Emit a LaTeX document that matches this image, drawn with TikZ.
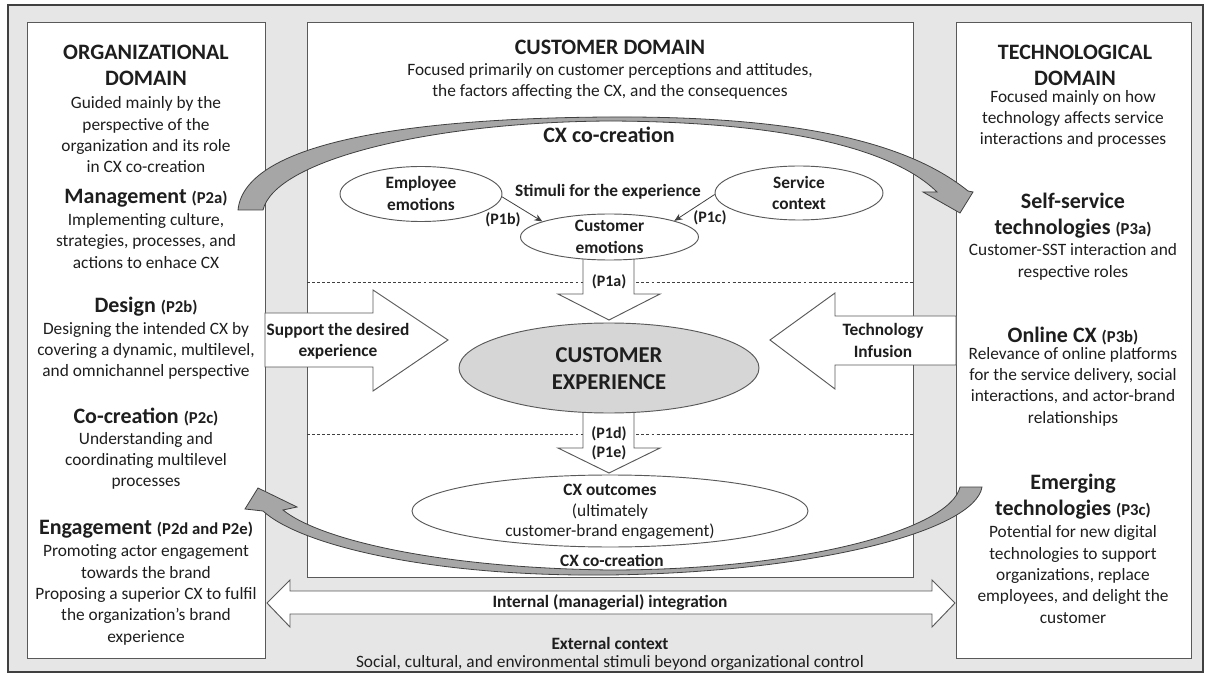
\documentclass[tikz,border=0pt]{standalone}
\usepackage{fontspec}
\setmainfont{Carlito}
\usetikzlibrary{shapes.geometric,arrows.meta}
\definecolor{bgray}{HTML}{E6E6E6}
\definecolor{frame}{HTML}{404040}
\definecolor{edge}{HTML}{595959}
\definecolor{band}{HTML}{A6A6A6}
\definecolor{cefill}{HTML}{D6D6D6}
\definecolor{ink}{HTML}{1E1E1E}
\newcommand\pnum[1]{{\fontsize{12.5}{15}\selectfont #1}}

\begin{document}
\begin{tikzpicture}[x=0.75pt,y=-0.75pt,
  panel/.style={draw=edge, fill=white, line width=0.7pt},
  blockarrow/.style={draw=edge, fill=white, line width=0.7pt, line join=miter},
  bandarrow/.style={draw=frame, fill=band, line width=0.6pt, line join=miter},
  dashln/.style={draw=frame, line width=0.5pt, dash pattern=on 2.2pt off 1.6pt},
  oval/.style={ellipse, draw=edge, fill=white, line width=0.7pt, inner sep=0pt},
  link/.style={draw=frame, line width=0.6pt, -{Stealth[length=6pt,width=5pt]}},
  ttl/.style={font=\fontsize{16.5}{19.5}\selectfont\bfseries, align=center, text=ink, inner sep=0pt},
  hd/.style={font=\fontsize{16.5}{19.5}\selectfont\bfseries, align=center, text=ink, inner sep=0pt},
  bd/.style={font=\fontsize{13}{16}\selectfont, align=center, text=ink, inner sep=0pt},
  bb/.style={font=\fontsize{13}{16}\selectfont\bfseries, align=center, text=ink, inner sep=0pt},
  lbl/.style={font=\fontsize{12}{15}\selectfont\bfseries, align=center, text=ink, inner sep=0pt},
  cet/.style={font=\fontsize{17}{20}\selectfont\bfseries, align=center, text=ink, inner sep=0pt}]
\useasboundingbox (0,0) rectangle (1207,677);

% background frame and the three domain panels
\draw[frame, fill=bgray, line width=0.8pt] (8,5) rectangle (1203,672);
\draw[panel] (27,22) rectangle (265,658);
\draw[panel] (307,22) rectangle (913,577);
\draw[panel] (956,22) rectangle (1191,658);

% layer separators inside the customer domain
\draw[dashln] (307,282) -- (913,282);
\draw[dashln] (307,434) -- (913,434);

% block arrows
\draw[blockarrow] (265,313) -- (373,313) -- (373,290) -- (448,340) -- (373,391) -- (373,367) -- (265,367) -- cycle;
\draw[blockarrow] (956,316) -- (835,316) -- (835,293) -- (770,340) -- (835,389) -- (835,365) -- (956,365) -- cycle;
\draw[blockarrow] (583,240) -- (583,294) -- (558,294) -- (609,320) -- (660,294) -- (634,294) -- (634,240) -- cycle;
\draw[blockarrow] (583,395) -- (583,448) -- (558,448) -- (609,473) -- (660,448) -- (634,448) -- (634,395) -- cycle;
\draw[blockarrow] (267,603) -- (290,580) -- (290,591) -- (932,591) -- (932,580) -- (955,603) -- (932,627) -- (932,614) -- (290,614) -- (290,627) -- cycle;

% ellipses
\node[oval, minimum width=121.5pt, minimum height=41.25pt] (emp) at (421,194) {};
\node[oval, minimum width=126pt, minimum height=40.5pt] (svc) at (799,193) {};
\node[oval, minimum width=133.5pt, minimum height=34.5pt] (cem) at (609.5,237) {};
\node[oval, fill=cefill, minimum width=225pt, minimum height=67.5pt] (ce) at (609,368) {};
\node[oval, minimum width=297pt, minimum height=54pt] (out) at (610,511) {};

\draw[link] (emp.-2) -- (cem.167);
\draw[link] (svc.181) -- (cem.14);

% CX co-creation bands
\draw[bandarrow] (238,210) .. controls (245,140) and (420,118) .. (610,117)
  .. controls (790,116) and (905,140) .. (968,191) -- (973,192) -- (960,213) -- (923,192) -- (937,192)
  .. controls (905,160) and (820,122) .. (610,121)
  .. controls (430,122) and (275,160) .. (263,210) -- cycle;
\draw[bandarrow] (982,487) .. controls (975,530) and (820,572) .. (610,575)
  .. controls (430,577) and (300,545) .. (263,511) -- (245,509) -- (258,488) -- (297,507) -- (283,510)
  .. controls (320,540) and (440,568) .. (610,570)
  .. controls (800,570) and (950,530) .. (960,487) -- cycle;

% organizational domain
\node[ttl] (orgT) at (146,65) {ORGANIZATIONAL\\DOMAIN};
\node[bd] (orgD) at (146,135) {Guided mainly by the\\perspective of the\\organization and its role\\in CX co-creation};
\node[hd] (mgmtH) at (146,198) {Management \pnum{(P2a)}};
\node[bd] (mgmtD) at (146,241) {Implementing culture,\\strategies, processes, and\\actions to enhace CX};
\node[hd] (desH) at (146,307) {Design \pnum{(P2b)}};
\node[bd] (desD) at (146,351) {Designing the intended CX by\\covering a dynamic, multilevel,\\and omnichannel perspective};
\node[hd] (cocH) at (146,417) {Co-creation \pnum{(P2c)}};
\node[bd] (cocD) at (146,461) {Understanding and\\coordinating multilevel\\processes};
\node[hd] (engH) at (146,529) {Engagement \pnum{(P2d and P2e)}};
\node[bd] (engD) at (146,595) {Promoting actor engagement\\towards the brand\\Proposing a superior CX to fulfil\\the organization’s brand\\experience};

% customer domain
\node[ttl] (cusT) at (610,47) {CUSTOMER DOMAIN};
\node[bd] (cusD) at (610,81.5) {Focused primarily on customer perceptions and attitudes,\\the factors affecting the CX, and the consequences};
\node[hd] (cocTop) at (609,135) {CX co-creation};
\node[bb] (stim) at (608,192) {Stimuli for the experience};
\node[bb] (empT) at (421,193.5) {Employee\\emotions};
\node[bb] (svcT) at (799,193) {Service\\context};
\node[bb] (cemT) at (609.5,237) {Customer\\emotions};
\node[lbl] (p1b) at (503,220) {(P1b)};
\node[lbl] (p1c) at (710,218) {(P1c)};
\node[lbl] (p1a) at (609,282) {(P1a)};
\node[cet] (ceT) at (609,368.5) {CUSTOMER\\EXPERIENCE};
\node[lbl] (p1d) at (609,434) {(P1d)};
\node[lbl] (p1e) at (609,453) {(P1e)};
\node[bd, font=\fontsize{13}{15.5}\selectfont] (outT) at (610,512) {\textbf{CX outcomes}\\(ultimately\\customer-brand engagement)};
\node[bb] (cocBot) at (612,560) {CX co-creation};
\node[bb] (supT) at (338,341) {Support the desired\\experience};
\node[bb] (techT) at (883,340.5) {Technology\\Infusion};
\node[bb] (intT) at (610,603) {Internal (managerial) integration};
\node[bb] (extT) at (610,643) {External context};
\node[bd] (extD) at (610,663) {Social, cultural, and environmental stimuli beyond organizational control};

% technological domain
\node[ttl] (tecT) at (1075,65.5) {TECHNOLOGICAL\\DOMAIN};
\node[bd] (tecD) at (1073,119) {Focused mainly on how\\technology affects service\\interactions and processes};
\node[hd] (sstH) at (1073,215.5) {Self-service\\technologies \pnum{(P3a)}};
\node[bd] (sstD) at (1073,262) {Customer-SST interaction and\\respective roles};
\node[hd] (onH) at (1073,336) {Online CX \pnum{(P3b)}};
\node[bd] (onD) at (1073,386.5) {Relevance of online platforms\\for the service delivery, social\\interactions, and actor-brand\\relationships};
\node[hd] (emH) at (1073,496.5) {Emerging\\technologies \pnum{(P3c)}};
\node[bd] (emD) at (1073,574.5) {Potential for new digital\\technologies to support\\organizations, replace\\employees, and delight the\\customer};
\end{tikzpicture}
\end{document}
